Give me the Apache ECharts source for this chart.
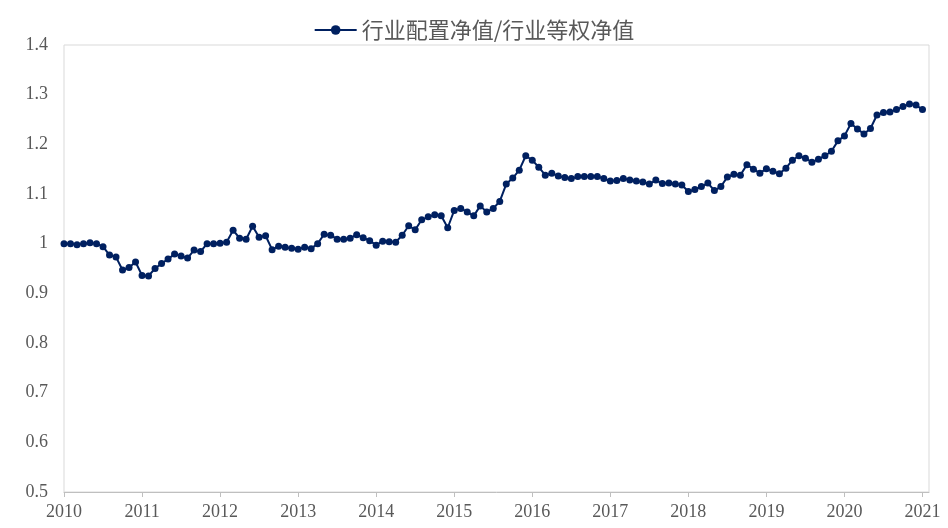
<!DOCTYPE html>
<html>
<head>
<meta charset="utf-8">
<script src="https://cdn.jsdelivr.net/npm/echarts@6/dist/echarts.min.js"></script>
<style>
html,body{margin:0;padding:0;background:#fff;}
#chart{width:948px;height:528px;}
</style>
</head>
<body>
<div id="chart"></div>
<script>
// ---- data ----
var seriesName = '行业配置净值/行业等权净值';
var startYear = 2010;
var yearLabels = ['2010','2011','2012','2013','2014','2015','2016','2017','2018','2019','2020','2021'];
var values2010_2011 = [1.000,1.000,0.998,1.000,1.002,1.000,0.994,0.977,0.973,0.947,0.952,0.963,
                       0.936,0.935,0.950,0.960,0.969,0.979,0.975,0.971,0.987,0.984,1.000,1.000];
var values2012_2013 = [1.001,1.003,1.027,1.011,1.009,1.035,1.013,1.016,0.988,0.995,0.993,0.991,
                       0.989,0.993,0.990,1.000,1.019,1.017,1.009,1.009,1.011,1.018,1.012,1.006];
var values2014_2015 = [0.997,1.005,1.004,1.003,1.017,1.036,1.028,1.048,1.054,1.058,1.056,1.032,
                       1.067,1.071,1.064,1.056,1.076,1.064,1.071,1.085,1.120,1.132,1.148,1.177];
var values2016_2017 = [1.168,1.154,1.138,1.142,1.136,1.133,1.131,1.135,1.135,1.135,1.135,1.131,
                       1.126,1.127,1.131,1.128,1.126,1.124,1.120,1.128,1.121,1.122,1.120,1.118];
var values2018_2019 = [1.105,1.109,1.115,1.122,1.107,1.115,1.134,1.140,1.138,1.159,1.150,1.142,
                       1.151,1.146,1.141,1.152,1.168,1.177,1.172,1.164,1.170,1.177,1.186,1.207];
var values2020_2021 = [1.217,1.242,1.231,1.221,1.232,1.259,1.264,1.265,1.270,1.276,1.281,1.279,
                       1.270];
var yMin = 0.5, yMax = 1.4, yStep = 0.1;

// ---- build ----
var values = [].concat(values2010_2011, values2012_2013, values2014_2015,
                       values2016_2017, values2018_2019, values2020_2021);
var categories = [];
for (var i = 0; i < values.length + 1; i++) {
  var y = startYear + Math.floor(i / 12);
  var m = (i % 12) + 1;
  categories.push(y + '-' + (m < 10 ? '0' + m : m));
}
function isYearStart(idx) { return idx % 12 === 0; }

var labelFont = "'Liberation Serif', 'Noto Sans CJK SC', serif";
var chart = echarts.init(document.getElementById('chart'), null, {renderer: 'canvas'});
chart.setOption({
  animation: false,
  backgroundColor: '#ffffff',
  legend: {
    top: 14,
    left: 'center',
    itemWidth: 42,
    itemHeight: 12,
    itemGap: 6,
    textStyle: {fontFamily: "'Noto Sans CJK SC', serif", fontSize: 22, color: '#595959'},
    data: [seriesName]
  },
  grid: {
    left: 64, right: 19, top: 45, bottom: 36,
    show: true, borderColor: '#d9d9d9', borderWidth: 1, containLabel: false
  },
  xAxis: {
    type: 'category',
    data: categories,
    boundaryGap: false,
    axisLine: {show: true, lineStyle: {color: '#bfbfbf', width: 1}},
    axisTick: {show: true, interval: function (idx) { return isYearStart(idx); }, length: 5,
               lineStyle: {color: '#bfbfbf'}},
    axisLabel: {
      interval: function (idx) { return isYearStart(idx); },
      formatter: function (val, idx) { return yearLabels[Math.floor(idx / 12)] || ''; },
      fontFamily: labelFont, fontSize: 18, color: '#595959', margin: 11
    },
    splitLine: {show: false}
  },
  yAxis: {
    type: 'value',
    min: yMin, max: yMax, interval: yStep,
    axisLine: {show: false},
    axisTick: {show: false},
    splitLine: {show: false},
    axisLabel: {
      formatter: function (v) { return String(+v.toFixed(1)); },
      fontFamily: labelFont, fontSize: 18, color: '#595959', margin: 16
    }
  },
  series: [{
    name: seriesName,
    type: 'line',
    data: values,
    symbol: 'circle',
    symbolSize: 7,
    showAllSymbol: true,
    lineStyle: {color: '#002060', width: 2},
    itemStyle: {color: '#002060'}
  }]
});
</script>
</body>
</html>
